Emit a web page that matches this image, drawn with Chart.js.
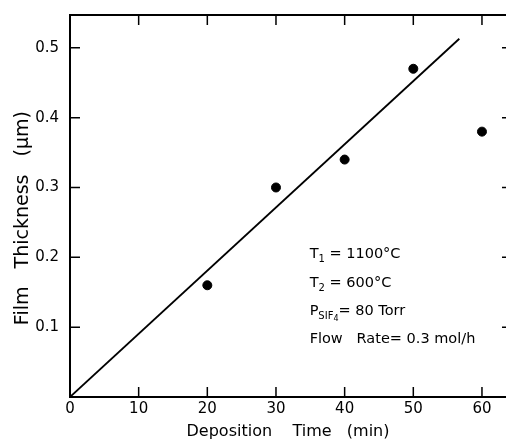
<!DOCTYPE html>
<html>
<head>
<meta charset="utf-8">
<script src="https://cdn.jsdelivr.net/npm/chart.js@4/dist/chart.umd.min.js"></script>
<style>
html,body{margin:0;padding:0;background:#fff;}
#wrap{position:relative;width:506px;height:442px;}
</style>
</head>
<body>
<div id="wrap"><canvas id="c" width="506" height="442"></canvas></div>
<script>
// Data
const depositionTime = [20, 30, 40, 50, 60];
const filmThickness = [0.16, 0.30, 0.34, 0.47, 0.38];
const fitLineX = [0, 56.7];
const fitLineY = [0, 0.513];
const xTicks = [0, 10, 20, 30, 40, 50, 60];
const yTicks = [0.1, 0.2, 0.3, 0.4, 0.5];
const annotationLines = [
  [["T", "n"], ["1", "s"], [" = 1100°C", "n"]],
  [["T", "n"], ["2", "s"], [" = 600°C", "n"]],
  [["P", "n"], ["SIF", "s"], ["4", "ss"], ["= 80 Torr", "n"]],
  [["Flow   Rate= 0.3 mol/h", "n"]]
];
const annotationRowsY = [0.199, 0.158, 0.118, 0.078];

const FONT = "'DejaVu Sans', sans-serif";

const frame = {
  id: 'frame',
  afterDraw(chart) {
    const {ctx, chartArea: a, scales: {x, y}} = chart;
    ctx.save();
    ctx.strokeStyle = '#000';
    ctx.lineWidth = 2;
    ctx.beginPath();
    ctx.moveTo(a.left, a.top);
    ctx.lineTo(chart.width, a.top);
    ctx.moveTo(a.left, a.top - 1);
    ctx.lineTo(a.left, a.bottom);
    ctx.lineTo(chart.width, a.bottom);
    ctx.stroke();
    const tl = 10;
    ctx.lineWidth = 1.5;
    ctx.beginPath();
    xTicks.forEach(v => {
      if (v === 0) return;
      const px = x.getPixelForValue(v);
      ctx.moveTo(px, a.bottom); ctx.lineTo(px, a.bottom - tl);
      ctx.moveTo(px, a.top); ctx.lineTo(px, a.top + tl);
    });
    yTicks.forEach(v => {
      const py = y.getPixelForValue(v);
      ctx.moveTo(a.left, py); ctx.lineTo(a.left + tl, py);
      ctx.moveTo(chart.width, py); ctx.lineTo(chart.width - 4, py);
    });
    ctx.stroke();

    // annotation
    ctx.fillStyle = '#000';
    ctx.textBaseline = 'alphabetic';
    const startX = x.getPixelForValue(34.9);
    annotationLines.forEach((parts, i) => {
      let cx = startX;
      const by = y.getPixelForValue(annotationRowsY[i]);
      parts.forEach(([t, k]) => {
        let size = 14.5, dy = 0;
        if (k === 's') { size = 10; dy = 4; }
        if (k === 'ss') { size = 8; dy = 6; }
        ctx.font = size + 'px ' + FONT;
        ctx.fillText(t, cx, by + dy);
        cx += ctx.measureText(t).width;
      });
    });
    ctx.restore();
  }
};

new Chart(document.getElementById('c'), {
  type: 'scatter',
  data: {
    datasets: [
      {
        label: 'Film thickness',
        data: depositionTime.map((t, i) => ({x: t, y: filmThickness[i]})),
        backgroundColor: '#000',
        borderColor: '#000',
        pointRadius: 4.5,
        pointHoverRadius: 4.5
      },
      {
        label: 'Fit',
        type: 'line',
        data: fitLineX.map((t, i) => ({x: t, y: fitLineY[i]})),
        borderColor: '#000',
        borderWidth: 1.8,
        pointRadius: 0,
        fill: false
      }
    ]
  },
  options: {
    responsive: false,
    animation: false,
    events: [],
    layout: {autoPadding: false, padding: {top: 15, right: 0, left: 0, bottom: 0}},
    plugins: {legend: {display: false}, tooltip: {enabled: false}},
    scales: {
      x: {
        type: 'linear',
        min: 0,
        max: 63.5,
        border: {display: false},
        grid: {display: false, drawTicks: false},
        ticks: {
          stepSize: 10,
          includeBounds: false,
          padding: 3,
          color: '#000',
          font: {family: FONT, size: 15},
          callback: v => xTicks.includes(v) ? String(v) : ''
        },
        title: {
          display: true,
          text: 'Deposition    Time   (min)',
          color: '#000',
          font: {family: FONT, size: 16},
          padding: {top: 0, bottom: 1}
        },
        afterFit(s) { s.height = 45; s.paddingLeft = 0; s.paddingRight = 0; }
      },
      y: {
        type: 'linear',
        min: 0,
        max: 0.547,
        border: {display: false},
        grid: {display: false, drawTicks: false},
        ticks: {
          stepSize: 0.1,
          includeBounds: false,
          padding: 11,
          color: '#000',
          font: {family: FONT, size: 15},
          callback: v => {
            const r = Math.round(v * 10) / 10;
            return yTicks.includes(r) && Math.abs(v - r) < 1e-6 ? r.toFixed(1) : '';
          }
        },
        title: {
          display: true,
          text: 'Film   Thickness   (μm)    ',
          color: '#000',
          font: {family: FONT, size: 19},
          padding: {top: 12, bottom: 0}
        },
        afterFit(s) { s.width = 70; s.paddingTop = 0; s.paddingBottom = 0; }
      }
    }
  },
  plugins: [frame]
});
</script>
</body>
</html>
